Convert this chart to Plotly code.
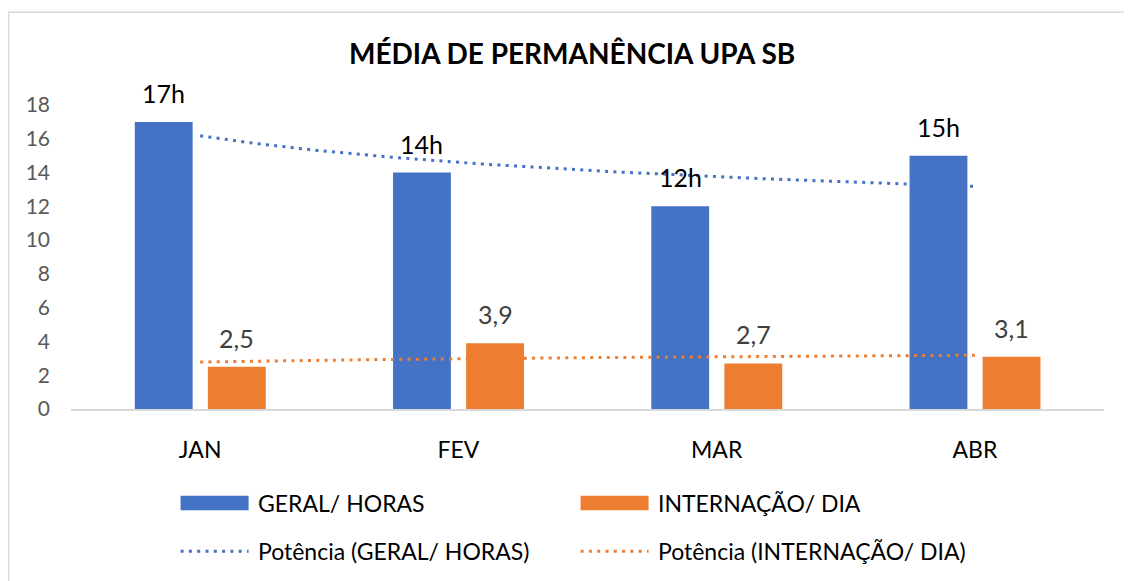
import numpy as np
import plotly.graph_objects as go

categories = ["JAN", "FEV", "MAR", "ABR"]
geral_horas = [17, 14, 12, 15]
internacao_dia = [2.5, 3.9, 2.7, 3.1]
y_ticks = [0, 2, 4, 6, 8, 10, 12, 14, 16, 18]
title_text = "MÉDIA DE PERMANÊNCIA UPA SB"
series_names = ["GERAL/ HORAS", "INTERNAÇÃO/ DIA"]
trend_names = ["Potência (GERAL/ HORAS)", "Potência (INTERNAÇÃO/ DIA)"]

BLUE = "#4472C4"
ORANGE = "#ED7D31"
FONT = "Lato"

W, H = 1132, 581
OFF = 8  # page body margin
# plot area in page pixel coordinates
PL, PR, PT, PB = 71.4, 1104.4, 104.8, 409.3
ML = PL - OFF
MT = PT - OFF
MR = W - (PR - OFF)
MB = H - (PB - OFF)
PW = PR - PL
PH = PB - PT


def px(x):
    return (x - PL) / PW


def py(y):
    return (PB - y) / PH


xi = np.arange(len(categories))
bar_w = 0.224
off_blue = -0.253
off_orange = 0.030

fig = go.Figure()
fig.add_trace(go.Bar(x=xi, y=geral_horas, name=series_names[0], marker_color=BLUE,
                     width=bar_w, offset=off_blue, showlegend=False,
                     marker_line_width=0))
fig.add_trace(go.Bar(x=xi, y=internacao_dia, name=series_names[1], marker_color=ORANGE,
                     width=bar_w, offset=off_orange, showlegend=False,
                     marker_line_width=0))


def power_fit(vals):
    xs = np.arange(1, len(vals) + 1)
    b, lna = np.polyfit(np.log(xs), np.log(vals), 1)
    xx = np.linspace(1, len(vals), 200)
    return xx - 1, np.exp(lna) * xx ** b


for vals, col, nm in [(geral_horas, BLUE, trend_names[0]), (internacao_dia, ORANGE, trend_names[1])]:
    tx, ty = power_fit(vals)
    fig.add_trace(go.Scatter(x=tx, y=ty, mode="lines", name=nm, showlegend=False,
                             line=dict(color=col, width=3, dash="3px,5.3px")))

annotations = []
for i, v in enumerate(geral_horas):
    annotations.append(dict(x=i + off_blue + bar_w / 2, y=v, text=f"{v}h", showarrow=False,
                            xanchor="center", yanchor="bottom", yshift=12,
                            font=dict(family=FONT, size=25, color="#000000")))
for i, v in enumerate(internacao_dia):
    annotations.append(dict(x=i + off_orange + bar_w / 2, y=v, text=f"{v}".replace(".", ","),
                            showarrow=False, xanchor="center", yanchor="bottom", yshift=12,
                            font=dict(family=FONT, size=25, color="#404040")))

# Title
annotations.append(dict(xref="paper", yref="paper", x=px(572.5), y=py(53), text=f"<b>{title_text}</b>",
                        showarrow=False, xanchor="center", yanchor="middle",
                        font=dict(family=FONT, size=28, color="#000000")))

shapes = []
# chart border
shapes.append(dict(type="rect", xref="paper", yref="paper", x0=px(9), x1=px(1150), y0=py(12), y1=py(610),
                   line=dict(color="#D9D9D9", width=1.5), fillcolor="rgba(0,0,0,0)", layer="below"))

# manual legend
leg_rows = [503.4, 551.7]
leg_cols = [(181, 249, 256.7), (581, 649, 656.7)]
cols = [BLUE, ORANGE]
for j in range(2):
    x0, x1, xt = leg_cols[j]
    shapes.append(dict(type="rect", xref="paper", yref="paper", x0=px(x0), x1=px(x1),
                       y0=py(leg_rows[0] + 7.3), y1=py(leg_rows[0] - 7.3),
                       fillcolor=cols[j], line=dict(width=0)))
    shapes.append(dict(type="line", xref="paper", yref="paper", x0=px(x0), x1=px(x1),
                       y0=py(leg_rows[1]), y1=py(leg_rows[1]),
                       line=dict(color=cols[j], width=3, dash="3px,5.3px")))
    annotations.append(dict(xref="paper", yref="paper", x=px(xt), y=py(leg_rows[0]), text=series_names[j],
                            showarrow=False, xanchor="left", yanchor="middle",
                            font=dict(family=FONT, size=23, color="#000000")))
    annotations.append(dict(xref="paper", yref="paper", x=px(xt), y=py(leg_rows[1]), text=trend_names[j],
                            showarrow=False, xanchor="left", yanchor="middle",
                            font=dict(family=FONT, size=23, color="#000000")))

fig.update_layout(
    width=W, height=H,
    margin=dict(l=ML, r=MR, t=MT, b=MB, pad=0),
    paper_bgcolor="white", plot_bgcolor="white",
    showlegend=False,
    annotations=annotations,
    shapes=shapes,
    xaxis=dict(range=[-0.5, len(categories) - 0.5], tickvals=list(xi), ticktext=categories,
               showgrid=False, zeroline=False, showline=True, linecolor="#D9D9D9", linewidth=1.5,
               ticks="", ticklabelstandoff=20,
               tickfont=dict(family=FONT, size=23, color="#000000")),
    yaxis=dict(range=[0, 18], tickvals=y_ticks, showgrid=False, zeroline=False, showline=False,
               ticks="", ticklabelstandoff=20,
               tickfont=dict(family=FONT, size=21, color="#595959")),
)

fig.write_html("out.html")
